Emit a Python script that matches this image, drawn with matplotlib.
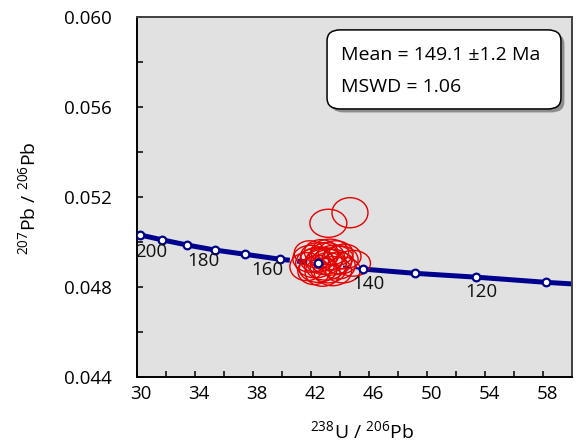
import matplotlib
matplotlib.use("Agg")
import matplotlib.pyplot as plt
from matplotlib.patches import Ellipse, FancyBboxPatch
from matplotlib.transforms import ScaledTranslation
import matplotlib.patheffects as pe

plt.rcParams['font.family'] = ['Open Sans', 'DejaVu Sans']
plt.rcParams['mathtext.default'] = 'regular'

# concordia age markers (Ma)
ages = [210, 200, 190, 180, 170, 160, 150, 140, 130, 120, 110]
conc_x = [30.23, 31.77, 33.49, 35.37, 37.46, 39.86, 42.50, 45.60, 49.20, 53.40, 58.20]
conc_y = [0.05031, 0.05009, 0.04986, 0.04964, 0.04945, 0.04923, 0.04905,
          0.04879, 0.04860, 0.04843, 0.04820]
# curve runs on to the plot edges
edge_x = [30.0, 60.0]
edge_y = [0.05034, 0.04813]

labelled = [200, 180, 160, 140, 120]
label_off = [(-11, -12), (-11, -11), (-12, -11), (5, -15), (5, -15)]  # pixels

# error ellipses: centre x, centre y, full width, full height
ell_x = [42.0, 42.6, 43.1, 43.6, 42.3, 42.9, 43.4, 44.0, 41.7, 42.5, 43.2, 43.9,
         42.8, 43.5, 42.2, 42.7, 43.3, 44.3, 44.9, 41.9, 43.0, 43.7, 42.4, 44.2,
         43.2, 44.69]
ell_y = [0.04925, 0.04940, 0.04935, 0.04930, 0.04905, 0.04915, 0.04910, 0.04920,
         0.04890, 0.04880, 0.04885, 0.04895, 0.04865, 0.04870, 0.04870, 0.04955,
         0.04955, 0.04935, 0.04905, 0.04950, 0.04900, 0.04950, 0.04920, 0.04875,
         0.05083, 0.05130]
ell_w = [2.5, 2.6, 2.4, 2.6, 2.7, 2.5, 2.8, 2.5, 2.3, 2.6, 2.5, 2.3,
         2.4, 2.6, 2.2, 2.3, 2.6, 2.3, 2.4, 2.1, 2.9, 2.4, 2.3, 2.4,
         2.55, 2.48]
ell_h = [0.00120, 0.00115, 0.00125, 0.00110, 0.00130, 0.00120, 0.00115, 0.00125,
         0.00125, 0.00120, 0.00135, 0.00120, 0.00125, 0.00130, 0.00120, 0.00110,
         0.00115, 0.00110, 0.00115, 0.00110, 0.00140, 0.00110, 0.00110, 0.00115,
         0.00125, 0.00134]

mean_txt = "Mean = 149.1 \u00b11.2 Ma"
mswd_txt = "MSWD = 1.06"

fig = plt.figure(figsize=(5.78, 4.43), dpi=100)
ax = fig.add_axes([0.2365, 0.1497, 0.7536, 0.8112])
ax.set_facecolor('#e1e1e1')

navy = '#00008f'
# concordia curve; dashed where it passes under the data cluster
cx = [edge_x[0]] + conc_x + [edge_x[1]]
cy = [edge_y[0]] + conc_y + [edge_y[1]]
ax.plot(cx[:7], cy[:7], color=navy, lw=3.6, solid_capstyle='butt', zorder=2)
ax.plot(cx[6:8], cy[6:8], color=navy, lw=3.6, ls=(0, (2, 1.5)), zorder=2)
ax.plot(cx[7:9], cy[7:9], color=navy, lw=1.5, ls=(0, (3, 3)), zorder=2)
ax.plot(cx[8:], cy[8:], color=navy, lw=3.6, solid_capstyle='butt', zorder=2)

for x, y, w, h in zip(ell_x, ell_y, ell_w, ell_h):
    ax.add_patch(Ellipse((x, y), w, h, fill=False, edgecolor='#e60000',
                         lw=1.0, zorder=3))

ax.plot(conc_x, conc_y, ls='none', marker='o', ms=5.5, mfc='white', mec=navy,
        mew=1.6, zorder=4)

for age, off in zip(labelled, label_off):
    i = ages.index(age)
    ax.annotate(str(age), (conc_x[i], conc_y[i]), xytext=off,
                textcoords='offset pixels', ha='center', va='center',
                fontsize=13.5, color='#111111', zorder=5)

ax.set_xlim(30, 60)
ax.set_ylim(0.044, 0.060)
ax.set_xticks([30, 34, 38, 42, 46, 50, 54, 58])
ax.set_xticks([32, 36, 40, 44, 48, 52, 56], minor=True)
ax.set_yticks([0.044, 0.048, 0.052, 0.056, 0.060])
ax.set_yticks([0.046, 0.050, 0.054, 0.058], minor=True)
ax.set_yticklabels(['0.044', '0.048', '0.052', '0.056', '0.060'])
ax.tick_params(which='both', direction='in', length=4, width=1.1, labelsize=13.5,
               colors='black')
ax.tick_params(axis='y', which='both', pad=18)
ax.tick_params(axis='x', which='both', pad=6)
for lab in ax.get_xticklabels():
    lab.set_transform(lab.get_transform() + ScaledTranslation(0.04, 0, fig.dpi_scale_trans))

for s in ['left', 'bottom']:
    ax.spines[s].set_color('black')
    ax.spines[s].set_linewidth(1.4)
for s in ['top', 'right']:
    ax.spines[s].set_color('#404040')
    ax.spines[s].set_linewidth(1.4)

# statistics box with drop shadow
box = FancyBboxPatch((0.45, 0.758), 0.511, 0.194, transform=ax.transAxes,
                     boxstyle='round,pad=0.013,rounding_size=0.03',
                     facecolor='white', edgecolor='black', lw=1.1, zorder=6)
box.set_path_effects([pe.SimplePatchShadow(offset=(2.5, -2.5), shadow_rgbFace='#555555',
                                           alpha=0.6), pe.Normal()])
ax.add_patch(box)
ax.text(0.469, 0.895, mean_txt, transform=ax.transAxes, fontsize=14,
        va='center', ha='left', zorder=7)
ax.text(0.469, 0.806, mswd_txt, transform=ax.transAxes, fontsize=14,
        va='center', ha='left', zorder=7)

fig.text(28 / 578, 0.553, '$^{207}$Pb / $^{206}$Pb', rotation=90, ha='center',
         va='center', fontsize=14)
fig.text(362 / 578, 0.027, '$^{238}$U / $^{206}$Pb', ha='center', va='center',
         fontsize=14)

fig.savefig('out.png', dpi=100)
